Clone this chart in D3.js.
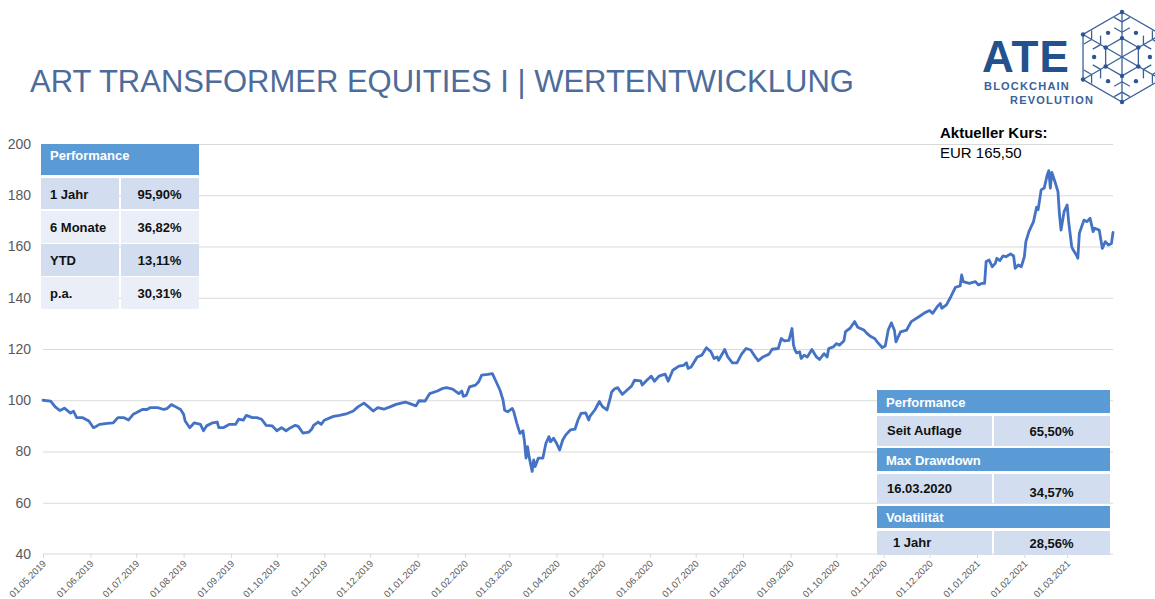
<!DOCTYPE html>
<html>
<head>
<meta charset="utf-8">
<script src="https://cdn.jsdelivr.net/npm/d3@7"></script>
<style>
  html, body { margin: 0; padding: 0; background: #ffffff; }
  svg { display: block; font-family: "Liberation Sans", Arial, sans-serif; }
</style>
</head>
<body>
<svg id="chart" width="1155" height="599"></svg>
<script>
// ---------------- DATA ----------------
const titleText = "ART TRANSFORMER EQUITIES I | WERTENTWICKLUNG";
const kursLabel = "Aktueller Kurs:";
const kursValue = "EUR 165,50";

const dates = [
"01.05.2019","06.05.2019","09.05.2019","12.05.2019","15.05.2019","19.05.2019","21.05.2019","23.05.2019","27.05.2019","31.05.2019",
"03.06.2019","05.06.2019","07.06.2019","12.06.2019","16.06.2019","19.06.2019","23.06.2019","26.06.2019","29.06.2019","01.07.2019",
"05.07.2019","08.07.2019","10.07.2019","15.07.2019","19.07.2019","21.07.2019","24.07.2019","26.07.2019","30.07.2019","01.08.2019",
"02.08.2019","05.08.2019","08.08.2019","12.08.2019","14.08.2019","16.08.2019","20.08.2019","23.08.2019","24.08.2019","27.08.2019",
"31.08.2019","04.09.2019","06.09.2019","09.09.2019","11.09.2019","15.09.2019","18.09.2019","21.09.2019","24.09.2019","28.09.2019",
"01.10.2019","04.10.2019","07.10.2019","10.10.2019","13.10.2019","15.10.2019","18.10.2019","22.10.2019","24.10.2019","25.10.2019",
"28.10.2019","30.10.2019","01.11.2019","07.11.2019","11.11.2019","16.11.2019","20.11.2019","23.11.2019","27.11.2019","30.11.2019",
"03.12.2019","06.12.2019","10.12.2019","14.12.2019","18.12.2019","24.12.2019","27.12.2019","31.12.2019","02.01.2020","06.01.2020",
"09.01.2020","14.01.2020","17.01.2020","20.01.2020","24.01.2020","28.01.2020","30.01.2020","31.01.2020","02.02.2020","04.02.2020",
"08.02.2020","10.02.2020","12.02.2020","16.02.2020","19.02.2020","21.02.2020","24.02.2020","26.02.2020","27.02.2020","29.02.2020",
"03.03.2020","04.03.2020","06.03.2020","08.03.2020","10.03.2020","11.03.2020","12.03.2020","13.03.2020","14.03.2020","16.03.2020",
"17.03.2020","18.03.2020","20.03.2020","23.03.2020","25.03.2020","27.03.2020","28.03.2020","30.03.2020","01.04.2020","03.04.2020",
"05.04.2020","07.04.2020","10.04.2020","13.04.2020","15.04.2020","17.04.2020","20.04.2020","22.04.2020","23.04.2020","26.04.2020",
"29.04.2020","01.05.2020","04.05.2020","06.05.2020","07.05.2020","09.05.2020","11.05.2020","14.05.2020","17.05.2020","20.05.2020",
"22.05.2020","26.05.2020","27.05.2020","30.05.2020","02.06.2020","04.06.2020","07.06.2020","11.06.2020","13.06.2020","16.06.2020",
"20.06.2020","23.06.2020","25.06.2020","26.06.2020","28.06.2020","02.07.2020","05.07.2020","08.07.2020","11.07.2020","13.07.2020",
"15.07.2020","16.07.2020","20.07.2020","22.07.2020","25.07.2020","28.07.2020","31.07.2020","03.08.2020","06.08.2020","09.08.2020",
"11.08.2020","14.08.2020","18.08.2020","20.08.2020","24.08.2020","26.08.2020","28.08.2020","31.08.2020","02.09.2020","03.09.2020",
"04.09.2020","05.09.2020","07.09.2020","08.09.2020","10.09.2020","12.09.2020","15.09.2020","18.09.2020","20.09.2020","23.09.2020",
"25.09.2020","26.09.2020","29.09.2020","01.10.2020","03.10.2020","06.10.2020","07.10.2020","10.10.2020","13.10.2020","15.10.2020",
"19.10.2020","21.10.2020","23.10.2020","26.10.2020","28.10.2020","31.10.2020","02.11.2020","04.11.2020","06.11.2020","08.11.2020",
"09.11.2020","12.11.2020","16.11.2020","19.11.2020","24.11.2020","28.11.2020","01.12.2020","03.12.2020","06.12.2020","08.12.2020",
"09.12.2020","12.12.2020","15.12.2020","18.12.2020","21.12.2020","22.12.2020","23.12.2020","27.12.2020","31.12.2020","02.01.2021",
"04.01.2021","06.01.2021","07.01.2021","09.01.2021","11.01.2021","13.01.2021","14.01.2021","16.01.2021","18.01.2021","20.01.2021",
"23.01.2021","25.01.2021","26.01.2021","28.01.2021","30.01.2021","01.02.2021","02.02.2021","04.02.2021","07.02.2021","09.02.2021",
"10.02.2021","12.02.2021","14.02.2021","16.02.2021","17.02.2021","18.02.2021","19.02.2021","21.02.2021","23.02.2021","24.02.2021",
"25.02.2021","27.02.2021","01.03.2021","02.03.2021","04.03.2021","05.03.2021","07.03.2021","08.03.2021","09.03.2021","12.03.2021",
"14.03.2021","16.03.2021","18.03.2021","19.03.2021","22.03.2021","24.03.2021","26.03.2021","28.03.2021","30.03.2021","31.03.2021"
];

const values = [
100,99.7,97.4,96,96.9,95,95.7,93.2,93.2,91.9,
89.3,89.9,90.6,91,91.2,93.2,93.2,92.3,94.5,95.1,
96.4,96.4,97.1,97.1,96.4,96.7,98.3,97.7,96.4,94.5,
91.9,89.3,91.2,90.6,88.1,90,91.2,91.5,89.3,89.3,
90.6,90.6,92.6,92.2,94.1,93.2,93.2,92.6,90.2,90,
88.1,89.3,88.1,89.3,90.2,89.8,87.2,87.6,88.9,90.2,
91.5,90.6,92.2,93.7,94.1,94.8,95.8,97.4,98.9,97.4,
95.8,97.1,96.5,97.4,98.4,99.3,98.7,97.8,99.8,99.7,
102.6,103.6,104.5,104.9,104.3,102.6,103.6,101.5,102,105.2,
105.9,107.2,109.8,110.1,110.4,107.8,103.9,100,96.1,95.5,
96.8,95.5,91,87.1,88.1,83.8,77.4,81.9,78,72.2,
76.7,74.1,77.4,77.4,83.2,85.8,83.8,85.2,83.2,80.6,
84.5,86.5,88.4,88.7,92.3,94.9,95.1,92.3,93.9,96.2,
99.5,97.5,96.2,100.6,103.2,104.5,104.9,102.3,103.9,105.5,
107.8,107.6,105.9,107.8,109.4,107.4,109.4,110.2,107.4,111.7,
113.3,113.6,114.6,112.4,113,116.9,117.6,120.5,118.9,116.3,
116.9,115.6,119.8,116.9,114.6,114.6,118,120.2,119.6,116.9,
115.4,116.9,118,119.9,120.2,124.1,123.2,123.4,128,121.5,
119.5,118.5,118.9,116.3,117.6,116.9,119.8,116.9,115.9,118.2,
116.9,120.2,120.8,122.1,121.5,123.2,126.8,128.1,130.7,128.5,
127.4,126.1,125.1,124.1,122.6,120.6,121.2,127.5,130.2,127.3,
122.8,126.7,127.4,130.7,132.6,134.2,135,133.9,136.5,137.8,
135.9,137.2,140.5,144.1,144.6,148.9,146.3,145.6,146.3,145,
145.6,145.6,154.1,154.7,152.1,153.4,155.4,154.5,156.3,156,
157.1,156.3,151.5,152.8,152.1,156,161.9,165.8,169.7,175.3,
174.3,182.1,182.8,188,189.6,182.8,188.9,185.3,181.4,172.3,
166.4,173.6,176.2,169.6,159.9,158.6,156.7,155.4,165.2,170.3,
169.7,171,165.8,167.1,166.4,159.3,161.9,160.6,161.2,165.5
];

const yTicks = [40, 60, 80, 100, 120, 140, 160, 180, 200];
const xStart = "01.05.2019";
const xEnd = "31.03.2021";
const xTickDates = ["01.05.2019","01.06.2019","01.07.2019","01.08.2019","01.09.2019","01.10.2019","01.11.2019","01.12.2019",
  "01.01.2020","01.02.2020","01.03.2020","01.04.2020","01.05.2020","01.06.2020","01.07.2020","01.08.2020","01.09.2020",
  "01.10.2020","01.11.2020","01.12.2020","01.01.2021","01.02.2021","01.03.2021"];

const perfHeader = "Performance";
const perfLabels = ["1 Jahr", "6 Monate", "YTD", "p.a."];
const perfValues = ["95,90%", "36,82%", "13,11%", "30,31%"];

const statHeaders = ["Performance", "Max Drawdown", "Volatilität"];
const statLabels = ["Seit Auflage", "16.03.2020", "1 Jahr"];
const statValues = ["65,50%", "34,57%", "28,56%"];

// ---------------- LAYOUT ----------------
const svg = d3.select("#chart");
const parse = d3.timeParse("%d.%m.%Y");
const fmt = d3.timeFormat("%d.%m.%Y");
const series = dates.map((d, i) => ({ date: parse(d), value: values[i] }));

const plot = { left: 43, right: 1113, top: 144, bottom: 554 };
const x = d3.scaleTime().domain([parse(xStart), parse(xEnd)]).range([plot.left, plot.right]);
const y = d3.scaleLinear().domain([40, 200]).range([plot.bottom, plot.top]);

const gridColor = "#d9d9d9";
const axisText = "#595959";
const blue = "#4472c4";
const hdrBlue = "#5b9bd5";
const rowDark = "#d2deef";
const rowLight = "#eaeff7";

// title
svg.append("text").attr("x", 30).attr("y", 92)
  .attr("font-size", 31).attr("fill", "#4d6c9b").text(titleText);

// gridlines
svg.append("g").attr("class", "grid")
  .attr("transform", `translate(${plot.left},0)`)
  .call(d3.axisLeft(y).tickValues(yTicks.filter(v => v > 40)).tickSize(-(plot.right - plot.left)).tickFormat(""))
  .call(g => g.select(".domain").remove())
  .call(g => g.selectAll("line").attr("stroke", gridColor).attr("stroke-width", 1));

// y labels
svg.append("g").attr("transform", `translate(${plot.left},0)`)
  .call(d3.axisLeft(y).tickValues(yTicks).tickSize(0).tickPadding(12))
  .call(g => g.select(".domain").remove())
  .call(g => g.selectAll("text").attr("fill", axisText).attr("font-size", 14)
        .attr("font-family", "Liberation Sans, Arial, sans-serif"));

// x axis
const xAxis = svg.append("g").attr("transform", `translate(0,${plot.bottom})`)
  .call(d3.axisBottom(x).tickValues(xTickDates.map(parse)).tickSize(4).tickFormat(fmt));
xAxis.select(".domain").attr("stroke", gridColor).attr("d", `M${plot.left},0H${plot.right}`);
xAxis.selectAll(".tick line").attr("stroke", gridColor);
xAxis.selectAll("text")
  .attr("fill", axisText).attr("font-size", 9.5)
  .attr("font-family", "Liberation Sans, Arial, sans-serif")
  .attr("text-anchor", "end")
  .attr("x", 0).attr("y", 0).attr("dy", "0.35em")
  .attr("transform", "translate(1,8) rotate(-45)");

// line
svg.append("path").datum(series)
  .attr("fill", "none").attr("stroke", blue).attr("stroke-width", 2.8)
  .attr("stroke-linejoin", "round").attr("stroke-linecap", "round")
  .attr("d", d3.line().x(d => x(d.date)).y(d => y(d.value)));

// current price text
svg.append("text").attr("x", 940).attr("y", 138).attr("font-size", 15).attr("font-weight", "bold")
  .attr("fill", "#000").text(kursLabel);
svg.append("text").attr("x", 940).attr("y", 158).attr("font-size", 15)
  .attr("fill", "#000").text(kursValue);

// ---- top-left table ----
const tl = { x0: 41, x1: 120, x2: 199 };
const tlRows = [{ y: 144, h: 31 }, { y: 178, h: 31 }, { y: 211, h: 32 }, { y: 244, h: 32 }, { y: 277, h: 32 }];
const tg = svg.append("g");
tg.append("rect").attr("x", tl.x0).attr("y", tlRows[0].y).attr("width", tl.x2 - tl.x0).attr("height", tlRows[0].h).attr("fill", hdrBlue);
tg.append("text").attr("x", 50).attr("y", tlRows[0].y + 16).attr("font-size", 13).attr("font-weight", "bold")
  .attr("fill", "#fff").text(perfHeader);
perfLabels.forEach((lab, i) => {
  const r = tlRows[i + 1];
  const c = i % 2 === 0 ? rowDark : rowLight;
  tg.append("rect").attr("x", tl.x0).attr("y", r.y).attr("width", tl.x1 - tl.x0 - 1).attr("height", r.h).attr("fill", c);
  tg.append("rect").attr("x", tl.x1 + 1).attr("y", r.y).attr("width", tl.x2 - tl.x1 - 1).attr("height", r.h).attr("fill", c);
  tg.append("text").attr("x", 50).attr("y", r.y + r.h / 2 + 5).attr("font-size", 13).attr("font-weight", "bold")
    .attr("fill", "#111").text(lab);
  tg.append("text").attr("x", (tl.x1 + tl.x2) / 2).attr("y", r.y + r.h / 2 + 5).attr("font-size", 13).attr("font-weight", "bold")
    .attr("text-anchor", "middle").attr("fill", "#111").text(perfValues[i]);
});

// ---- bottom-right table ----
const br = { x0: 877, x1: 993, x2: 1110 };
const brHdr = [{ y: 390, h: 23 }, { y: 448, h: 23 }, { y: 506, h: 22 }];
const brRow = [{ y: 416, h: 30 }, { y: 474, h: 29 }, { y: 531, h: 24 }];
const bg = svg.append("g");
statHeaders.forEach((h, i) => {
  const hr = brHdr[i];
  bg.append("rect").attr("x", br.x0).attr("y", hr.y).attr("width", br.x2 - br.x0).attr("height", hr.h).attr("fill", hdrBlue);
  bg.append("text").attr("x", 886).attr("y", hr.y + hr.h / 2 + 5).attr("font-size", 13).attr("font-weight", "bold")
    .attr("fill", "#fff").text(h);
  const rr = brRow[i];
  bg.append("rect").attr("x", br.x0).attr("y", rr.y).attr("width", br.x1 - br.x0 - 1).attr("height", rr.h).attr("fill", rowDark);
  bg.append("rect").attr("x", br.x1 + 1).attr("y", rr.y).attr("width", br.x2 - br.x1 - 1).attr("height", rr.h).attr("fill", rowDark);
  bg.append("text").attr("x", i === 2 ? 893 : 887).attr("y", rr.y + rr.h / 2 + 4).attr("font-size", 13).attr("font-weight", "bold")
    .attr("fill", "#111").text(statLabels[i]);
  bg.append("text").attr("x", (br.x1 + br.x2) / 2).attr("y", rr.y + rr.h / 2 + (i === 1 ? 8 : 5)).attr("font-size", 13).attr("font-weight", "bold")
    .attr("text-anchor", "middle").attr("fill", "#111").text(statValues[i]);
});

// ---- logo ----
const logo = svg.append("g");
const logoBlue = "#23518d";
logo.append("text").attr("x", 982).attr("y", 72).attr("font-size", 44).attr("font-weight", "bold")
  .attr("letter-spacing", 1).attr("fill", logoBlue).text("ATE");
logo.append("text").attr("x", 984).attr("y", 90).attr("font-size", 11).attr("font-weight", "bold")
  .attr("letter-spacing", 1.2).attr("fill", "#3a6198").text("BLOCKCHAIN");
logo.append("text").attr("x", 1010).attr("y", 104).attr("font-size", 11).attr("font-weight", "bold")
  .attr("letter-spacing", 1.2).attr("fill", "#3a6198").text("REVOLUTION");

const cx = 1122, cy = 57, R = 45;
const ang = d3.range(6).map(i => -Math.PI / 2 + i * Math.PI / 3);
const pt = (a, r) => [cx + r * Math.cos(a), cy + r * Math.sin(a)];
const flake = logo.append("g").attr("stroke", "#3a6198").attr("stroke-width", 1.3).attr("fill", "none");
flake.append("path").attr("d", d3.line()(ang.map(a => pt(a, R)).concat([pt(ang[0], R)])));
flake.append("path").attr("d", d3.line()(ang.map(a => pt(a, R * 0.42)).concat([pt(ang[0], R * 0.42)])));
ang.forEach(a => {
  flake.append("path").attr("d", d3.line()([pt(a, 0), pt(a, R)]));
  [0.55, 0.78].forEach(f => {
    const base = pt(a, R * f);
    [a - Math.PI / 3, a + Math.PI / 3].forEach(b => {
      const tip = [base[0] + R * 0.2 * Math.cos(b), base[1] + R * 0.2 * Math.sin(b)];
      flake.append("path").attr("d", d3.line()([base, tip]));
    });
  });
});
const dots = [];
ang.forEach(a => { dots.push(pt(a, R)); dots.push(pt(a, R * 0.42)); dots.push(pt(a + Math.PI / 6, R * 0.62)); });
logo.selectAll("circle.dot").data(dots).enter().append("circle")
  .attr("cx", d => d[0]).attr("cy", d => d[1]).attr("r", 2.2).attr("fill", "#2d5592");
</script>
</body>
</html>
